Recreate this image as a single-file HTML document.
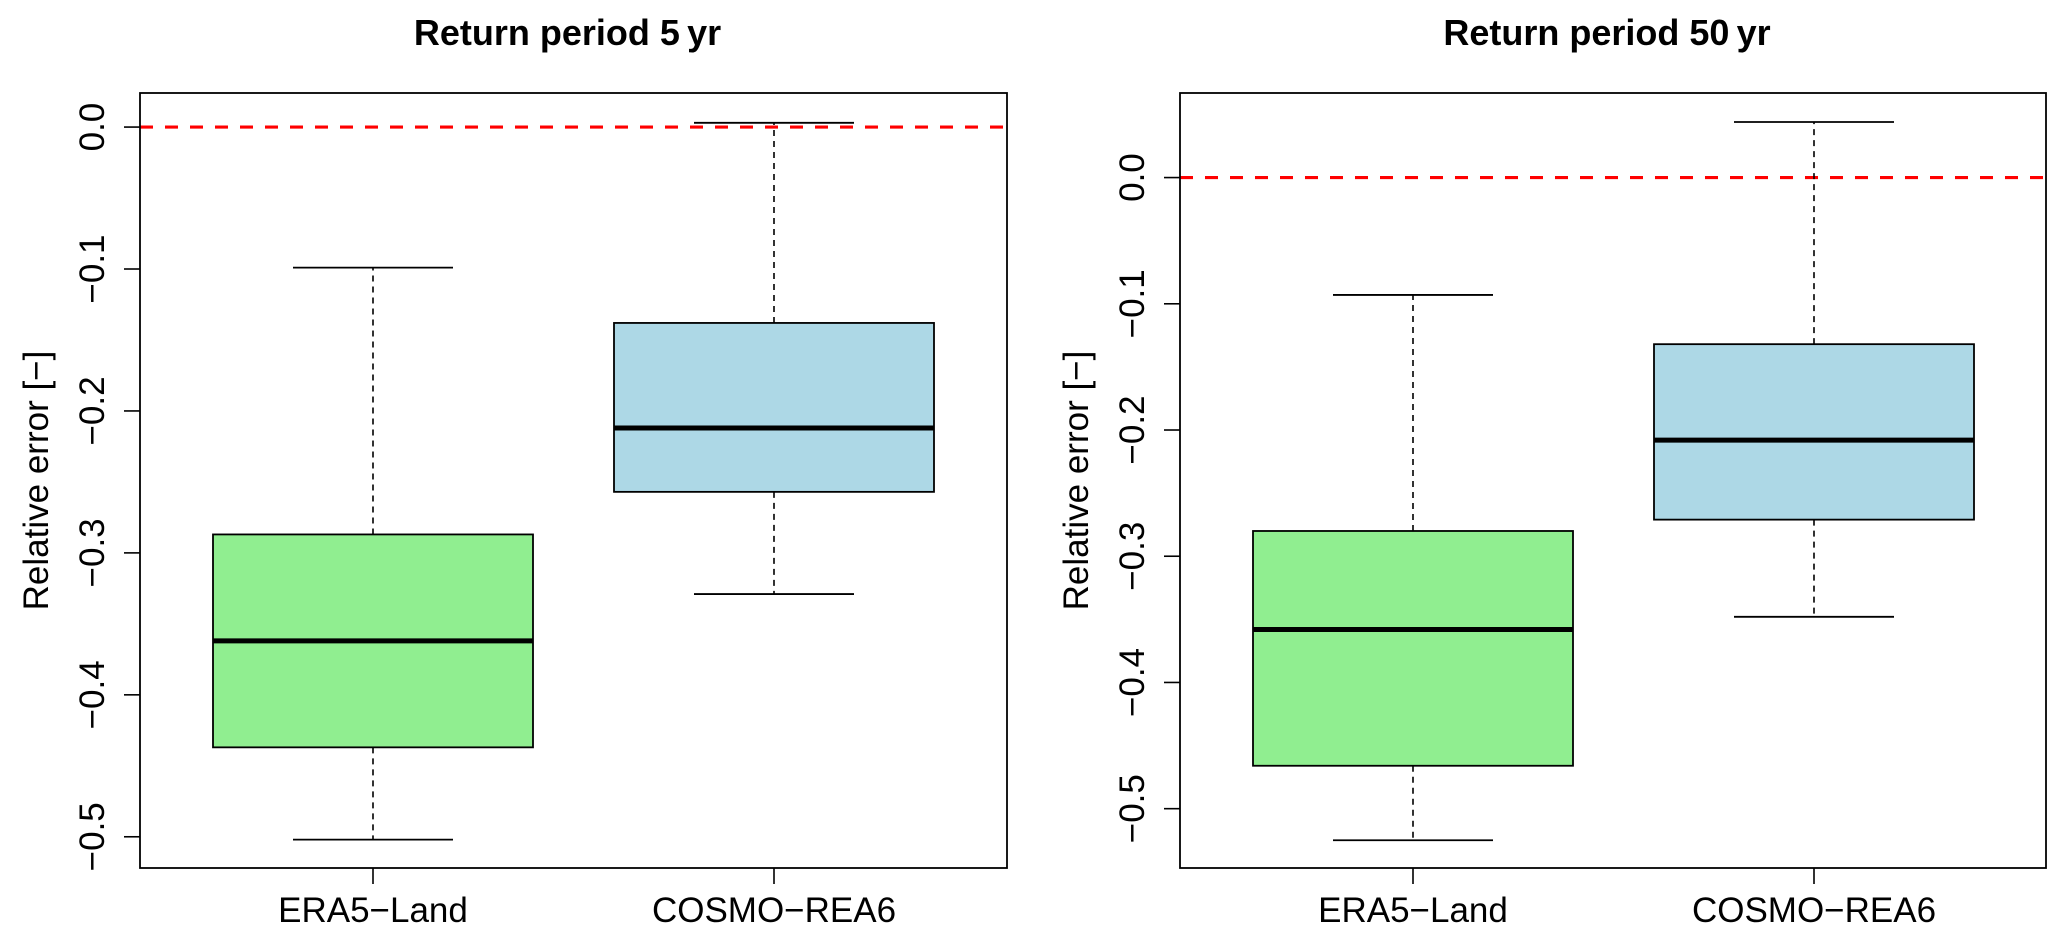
<!DOCTYPE html>
<html><head><meta charset="utf-8">
<style>
html,body{margin:0;padding:0;background:#fff;}
svg{display:block;font-family:"Liberation Sans",Arial,sans-serif;}
</style></head>
<body>
<svg id="chart" width="2067" height="942" viewBox="0 0 2067 942" xmlns="http://www.w3.org/2000/svg"></svg>
<script>
// ---- data ----
const categories = ["ERA5\u2212Land", "COSMO\u2212REA6"];
const titles = ["Return period 5\u2009yr", "Return period 50\u2009yr"];
// [lowerWhisker, Q1, median, Q3, upperWhisker] per category
const rp5Era5 = [-0.502, -0.437, -0.362, -0.287, -0.099];
const rp5Cosmo = [-0.329, -0.257, -0.212, -0.138, 0.003];
const rp50Era5 = [-0.525, -0.466, -0.358, -0.280, -0.093];
const rp50Cosmo = [-0.348, -0.271, -0.208, -0.132, 0.044];
const yTicks5 = [0.0, -0.1, -0.2, -0.3, -0.4, -0.5];
const yTicks50 = [0.0, -0.1, -0.2, -0.3, -0.4, -0.5];
const yDomain5 = [-0.522, 0.024];
const yDomain50 = [-0.547, 0.067];
const refValue = 0.0;
const boxColors = ["#90ee90", "#add8e6"];

const NS = "http://www.w3.org/2000/svg";
const svg = document.getElementById("chart");
function mk(tag, attrs, parent) {
  const e = document.createElementNS(NS, tag);
  for (const k in attrs) e.setAttribute(k, attrs[k]);
  (parent || svg).appendChild(e);
  return e;
}
function fmt(v) { return (v < 0 ? "\u2212" : "") + Math.abs(v).toFixed(1); }

function panel(idx, left, right, top, bottom, domain, ticks, series, title) {
  const g = mk("g", {});
  
  
  const y = v => bottom - (v - domain[0]) / (domain[1] - domain[0]) * (bottom - top);
  const unit = 401;
  const x = i => left + 233 + i * unit;
  const halfBox = 160, halfCap = 80;

  const t = mk("text", {x: (left + right) / 2 - 6, y: 45, "text-anchor": "middle", "font-size": 36, "font-weight": "bold", fill: "#000"}, g);
  t.textContent = title;
  
  

  const rl = mk("line", {x1: left, x2: right, y1: y(refValue), y2: y(refValue), stroke: "#ff0000", "stroke-width": 3.2, "stroke-dasharray": "13,12"}, g);
  
  

  series.forEach((s, i) => {
    const cx = x(i);
    const bg = mk("g", {}, g);
    
    
    mk("line", {x1: cx, x2: cx, y1: y(s[3]), y2: y(s[4]), stroke: "#000", "stroke-width": 1.6, "stroke-dasharray": "6,5"}, bg);
    mk("line", {x1: cx, x2: cx, y1: y(s[1]), y2: y(s[0]), stroke: "#000", "stroke-width": 1.6, "stroke-dasharray": "6,5"}, bg);
    mk("line", {x1: cx - halfCap, x2: cx + halfCap, y1: y(s[4]), y2: y(s[4]), stroke: "#000", "stroke-width": 1.8}, bg);
    mk("line", {x1: cx - halfCap, x2: cx + halfCap, y1: y(s[0]), y2: y(s[0]), stroke: "#000", "stroke-width": 1.8}, bg);
    mk("rect", {x: cx - halfBox, y: y(s[3]), width: 2 * halfBox, height: y(s[1]) - y(s[3]), fill: boxColors[i], stroke: "#000", "stroke-width": 1.8}, bg);
    mk("line", {x1: cx - halfBox, x2: cx + halfBox, y1: y(s[2]), y2: y(s[2]), stroke: "#000", "stroke-width": 5}, bg);
    mk("line", {x1: cx, x2: cx, y1: bottom, y2: bottom + 16, stroke: "#000", "stroke-width": 1.6}, g);
    const lab = mk("text", {x: cx, y: 922, "text-anchor": "middle", "font-size": 35, fill: "#000"}, g);
    lab.textContent = categories[i];
    
    
  });

  const fr = mk("rect", {x: left, y: top, width: right - left, height: bottom - top, fill: "none", stroke: "#000", "stroke-width": 1.8}, g);
  
  

  ticks.forEach(v => {
    const ty = y(v);
    mk("line", {x1: left - 16, x2: left, y1: ty, y2: ty, stroke: "#000", "stroke-width": 1.6}, g);
    const lx = left - 36;
    const tl = mk("text", {x: lx, y: ty, "text-anchor": "middle", "font-size": 35, fill: "#000", transform: "rotate(-90 " + lx + " " + ty + ")"}, g);
    tl.textContent = fmt(v);
    
    
  });

  const ax = left - 92, ay = (top + bottom) / 2;
  const yt = mk("text", {x: ax, y: ay, "text-anchor": "middle", "font-size": 35, fill: "#000", transform: "rotate(-90 " + ax + " " + ay + ")"}, g);
  yt.textContent = "Relative error [\u2212]";
  
  
}

panel(0, 140, 1007, 93, 868, yDomain5, yTicks5, [rp5Era5, rp5Cosmo], titles[0]);
panel(1, 1180, 2046, 93, 868, yDomain50, yTicks50, [rp50Era5, rp50Cosmo], titles[1]);
</script>
</body></html>
